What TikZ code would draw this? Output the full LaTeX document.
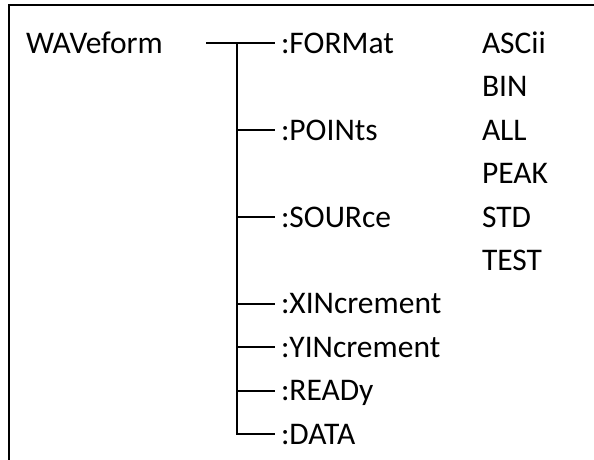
\documentclass[tikz,border=0pt]{standalone}
\usepackage{fontspec}
\setmainfont{Carlito}
\begin{document}
\begin{tikzpicture}[x=1pt,y=-1pt,line width=2pt,
  lbl/.style={anchor=base west,inner sep=0pt,font=\fontsize{31.5}{38}\selectfont},
  conn/.style={line width=2pt}]
\useasboundingbox (0,0) rectangle (594,460);
\draw[conn] (9,462) -- (9,5) -- (596,5);
% root
\node[lbl] (wav) at (25,53.5) {WAVeform};
% commands
\node[lbl] (fmt) at (280,53.5) {:FORMat};
\node[lbl] (pts) at (280,140.3) {:POINts};
\node[lbl] (src) at (280,227.1) {:SOURce};
\node[lbl] (xin) at (280,313.9) {:XINcrement};
\node[lbl] (yin) at (280,357.3) {:YINcrement};
\node[lbl] (rdy) at (280,400.7) {:READy};
\node[lbl] (dat) at (280,444.1) {:DATA};
% values
\node[lbl] (asc) at (481,53.5) {ASCii};
\node[lbl] (bin) at (481,96.9) {BIN};
\node[lbl] (all) at (481,140.3) {ALL};
\node[lbl] (peak) at (481,183.7) {PEAK};
\node[lbl] (std) at (481,227.1) {STD};
\node[lbl] (test) at (481,270.5) {TEST};
% connector ends
\foreach \n in {fmt,pts,src,xin,yin,rdy,dat}
  \coordinate (\n E) at ([shift={(-5pt,10pt)}]\n.base west);
\coordinate (stub) at ([xshift=-31pt]fmtE -| 237,0);
\coordinate (trunk) at (237,0);
\draw[conn] (stub) -- (fmtE);
\draw[conn] (fmtE -| trunk) |- (datE);
\foreach \n in {pts,src,xin,yin,rdy}
  \draw[conn] (\n E -| trunk) -- (\n E);
\end{tikzpicture}
\end{document}
